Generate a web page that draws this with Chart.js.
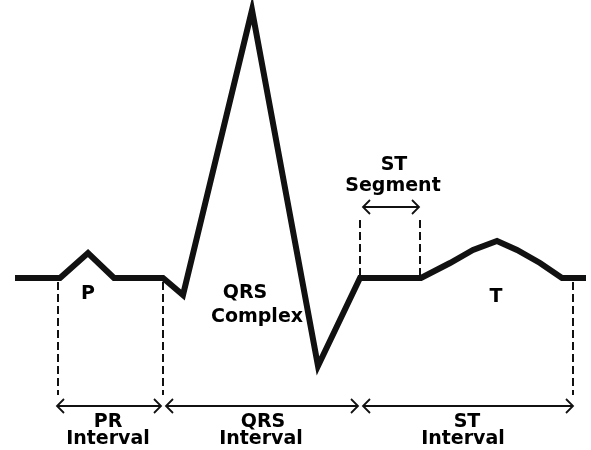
<!DOCTYPE html>
<html>
<head>
<meta charset="utf-8">
<script src="https://cdn.jsdelivr.net/npm/chart.js@4.4.0/dist/chart.umd.min.js"></script>
<style>
  html, body { margin: 0; padding: 0; background: #fff; }
  #wrap { width: 591px; height: 450px; position: relative; }
</style>
</head>
<body>
<div id="wrap"><canvas id="ecg"></canvas></div>
<script>
// ECG trace: time (arbitrary units) and amplitude (baseline = 0)
const traceTime = [15, 60, 88, 114, 163, 183, 252, 318, 360, 421, 450, 473, 497, 517, 540, 562, 586];
const traceAmp  = [0, 0, 25, 0, 0, -17, 268, -88, 0, 0, 15, 28, 37, 28, 15, 0, 0];

// dashed markers: [time, from amp, to amp]
const markers = [
    [58, -4, -117],
    [163, -4, -117],
    [360, 2, 60],
    [420, 2, 60],
    [573, -4, -117]
];

// interval arrows: [start, end, amp]
const intervals = [
    [57, 161, -128],
    [166, 358, -128],
    [363, 573, -128],
    [363, 419, 71]
];

// labels: [text, time, amp]
const labels = [
    ['P', 88, -16],
    ['QRS', 245, -15],
    ['Complex', 257, -39],
    ['T', 496, -19],
    ['ST', 394, 113],
    ['Segment', 393, 92],
    ['PR', 108, -144],
    ['Interval', 108, -161],
    ['QRS', 263, -144],
    ['Interval', 261, -161],
    ['ST', 467, -144],
    ['Interval', 463, -161]
];

const datasets = [{
    data: traceTime.map((t, i) => ({ x: t, y: traceAmp[i] })),
    borderColor: '#111',
    borderWidth: 6,
    borderJoinStyle: 'miter',
    pointRadius: 0,
    tension: 0
}];

markers.forEach(m => {
    datasets.push({
        data: [{ x: m[0], y: m[1] }, { x: m[0], y: m[2] }],
        borderColor: '#111',
        borderWidth: 2,
        borderDash: [8, 4],
        pointRadius: 0
    });
});

intervals.forEach(a => {
    datasets.push({
        data: [{ x: a[0], y: a[2] }, { x: a[1], y: a[2] }],
        borderColor: '#111',
        borderWidth: 1.8,
        pointRadius: 0
    });
});

// arrow heads and text labels, placed through the scales
const annotate = {
    id: 'annotate',
    afterDatasetsDraw(chart) {
        const { ctx, scales: { x, y } } = chart;
        ctx.save();
        ctx.strokeStyle = '#111';
        ctx.lineWidth = 1.8;
        intervals.forEach(a => {
            const x1 = x.getPixelForValue(a[0]);
            const x2 = x.getPixelForValue(a[1]);
            const py = y.getPixelForValue(a[2]);
            ctx.beginPath();
            ctx.moveTo(x1 + 7, py - 7);
            ctx.lineTo(x1, py);
            ctx.lineTo(x1 + 7, py + 7);
            ctx.moveTo(x2 - 7, py - 7);
            ctx.lineTo(x2, py);
            ctx.lineTo(x2 - 7, py + 7);
            ctx.stroke();
        });

        ctx.fillStyle = '#000';
        ctx.font = 'bold 19px "DejaVu Sans"';
        ctx.textAlign = 'center';
        ctx.textBaseline = 'middle';
        labels.forEach(l => {
            ctx.fillText(l[0], x.getPixelForValue(l[1]), y.getPixelForValue(l[2]));
        });
        ctx.restore();
    }
};

new Chart(document.getElementById('ecg'), {
    type: 'line',
    data: { datasets },
    options: {
        responsive: true,
        maintainAspectRatio: false,
        animation: false,
        layout: { padding: 0 },
        plugins: {
            legend: { display: false },
            tooltip: { enabled: false }
        },
        scales: {
            x: { type: 'linear', min: 0, max: 591, display: false },
            y: { min: -172, max: 278, display: false }
        },
        elements: { line: { fill: false } },
        clip: false
    },
    plugins: [annotate]
});
</script>
</body>
</html>
